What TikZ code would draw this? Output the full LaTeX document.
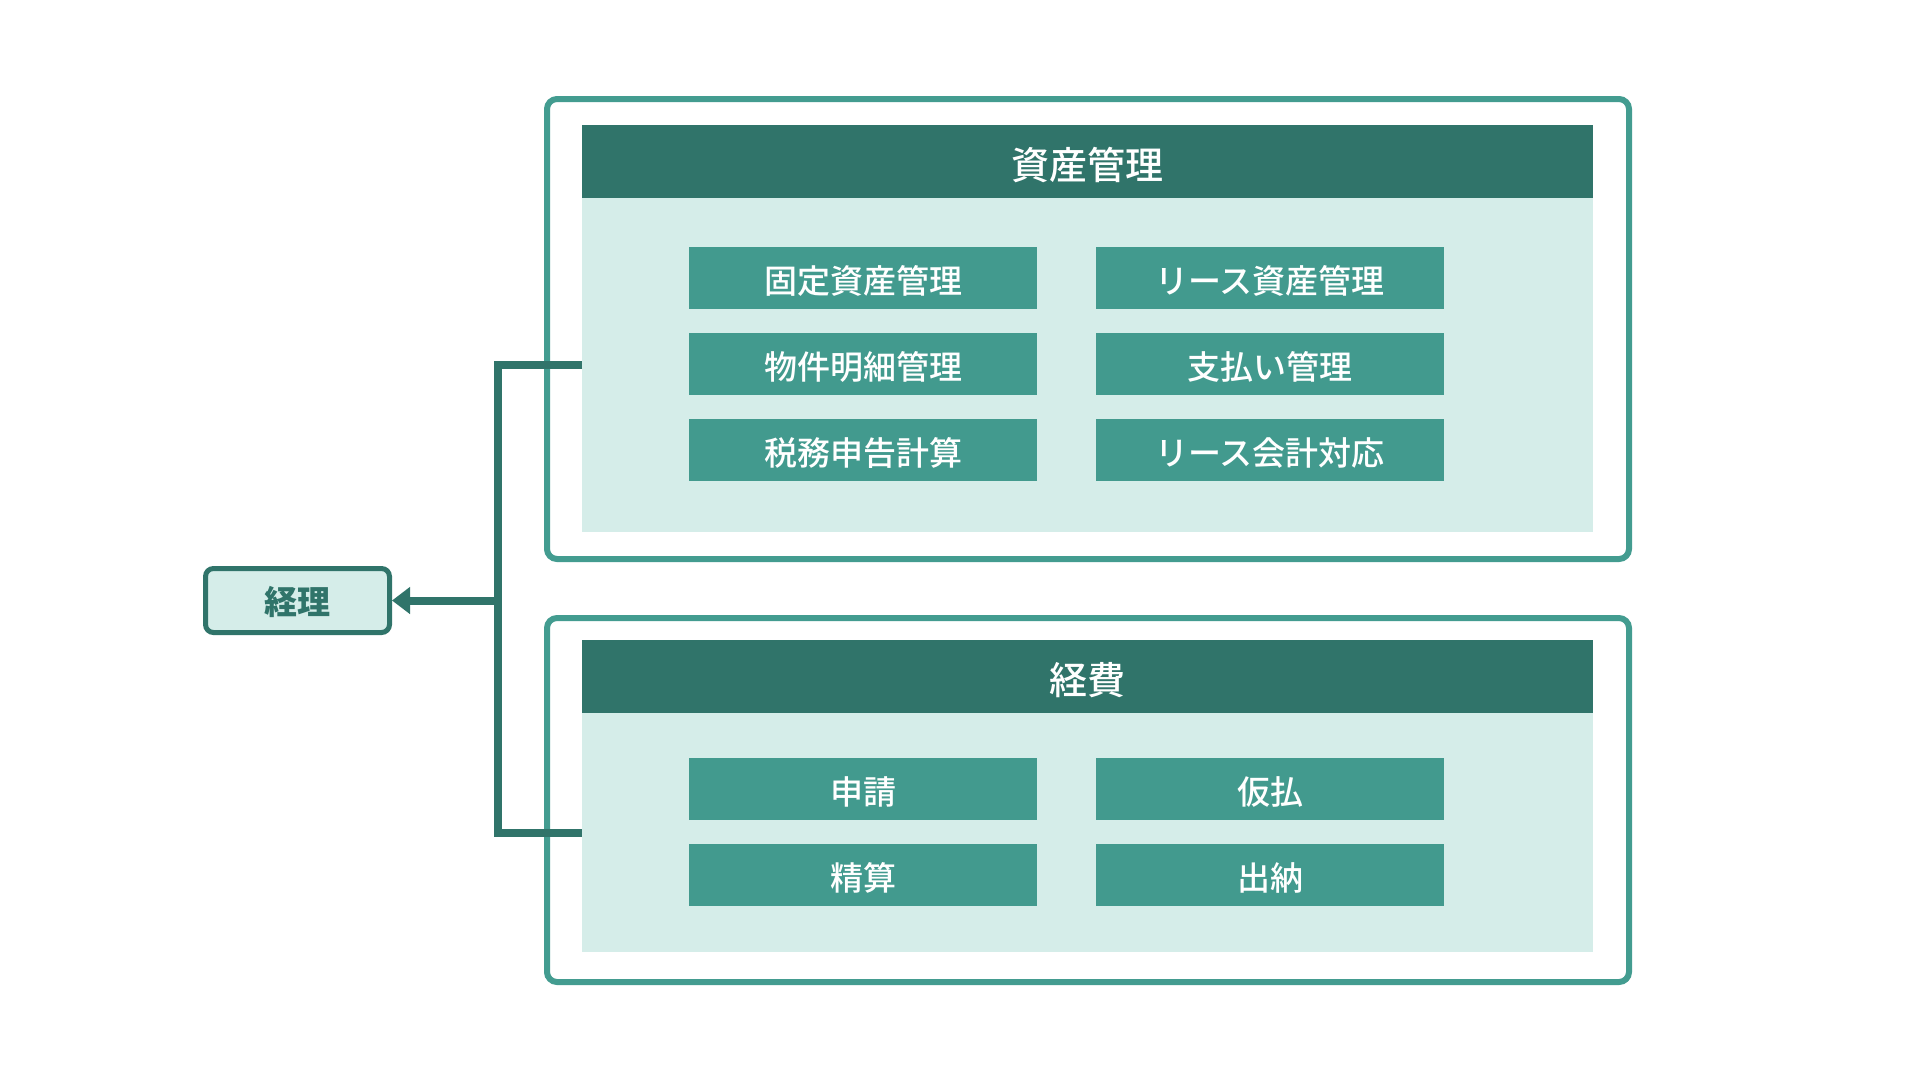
\documentclass[tikz,border=0pt]{standalone}
\usepackage{fontspec}
\setmainfont{Noto Sans CJK JP}
\newfontfamily\medfont{Noto Sans CJK JP Medium}
\usetikzlibrary{arrows.meta}
\definecolor{tealborder}{HTML}{439C90}
\definecolor{tealdark}{HTML}{30746A}
\definecolor{tealitem}{HTML}{429A8E}
\definecolor{teallight}{HTML}{D5EDE9}
\tikzset{
  outerbox/.style={draw=tealborder, line width=6pt, rounded corners=10pt, fill=white, inner sep=0pt, outer sep=0pt},
  headbar/.style={fill=tealdark, draw=none, text=white, font=\medfont\fontsize{38}{44}\selectfont, text height=36pt, text depth=0pt, inner sep=0pt, outer sep=0pt, minimum width=1011pt, minimum height=73pt},
  bodyarea/.style={fill=teallight, draw=none, inner sep=0pt, outer sep=0pt, minimum width=1011pt},
  itembox/.style={fill=tealitem, draw=none, text=white, font=\medfont\fontsize{33}{38}\selectfont, text height=31pt, text depth=0pt, inner sep=0pt, outer sep=0pt, minimum width=348pt, minimum height=62pt},
  rootbox/.style={draw=tealdark, line width=5pt, rounded corners=8pt, fill=teallight, text=tealdark, font=\bfseries\fontsize{33}{38}\selectfont, text height=27.5pt, text depth=0pt, inner sep=0pt, minimum width=184pt, minimum height=64pt},
  conn/.style={draw=tealdark, line width=8pt, line join=miter}
}
\begin{document}
\begin{tikzpicture}[x=1pt,y=-1pt]
\useasboundingbox[fill=white] (0,0) rectangle (1920,1080);

% group 1
\node[outerbox, minimum width=1082pt, minimum height=460pt] (box1) at (1088,329) {};
\node[headbar] (head1) at (1087.5,161.5) {資産管理};
\node[bodyarea, minimum height=334pt] (body1) at (1087.5,365) {};
\node[itembox] (a1) at (863,278) {固定資産管理};
\node[itembox] (a2) at (1270,278) {リース資産管理};
\node[itembox] (a3) at (863,364) {物件明細管理};
\node[itembox] (a4) at (1270,364) {支払い管理};
\node[itembox] (a5) at (863,450) {税務申告計算};
\node[itembox] (a6) at (1270,450) {リース会計対応};

% group 2
\node[outerbox, minimum width=1082pt, minimum height=364pt] (box2) at (1088,800) {};
\node[headbar] (head2) at (1087.5,676.5) {経費};
\node[bodyarea, minimum height=239pt] (body2) at (1087.5,832.5) {};
\node[itembox] (b1) at (863,788.5) {申請};
\node[itembox] (b2) at (1270,788.5) {仮払};
\node[itembox] (b3) at (863,874.5) {精算};
\node[itembox] (b4) at (1270,874.5) {出納};

% root
\node[rootbox] (keiri) at (297.5,600.5) {経理};

% connectors
\coordinate (jn) at (498,600.5);
\draw[conn] (body1.west) -| (jn) |- (body2.west);
\draw[conn, -{Triangle[length=18pt,width=26pt]}] (jn) -- (keiri.east);
\end{tikzpicture}
\end{document}
